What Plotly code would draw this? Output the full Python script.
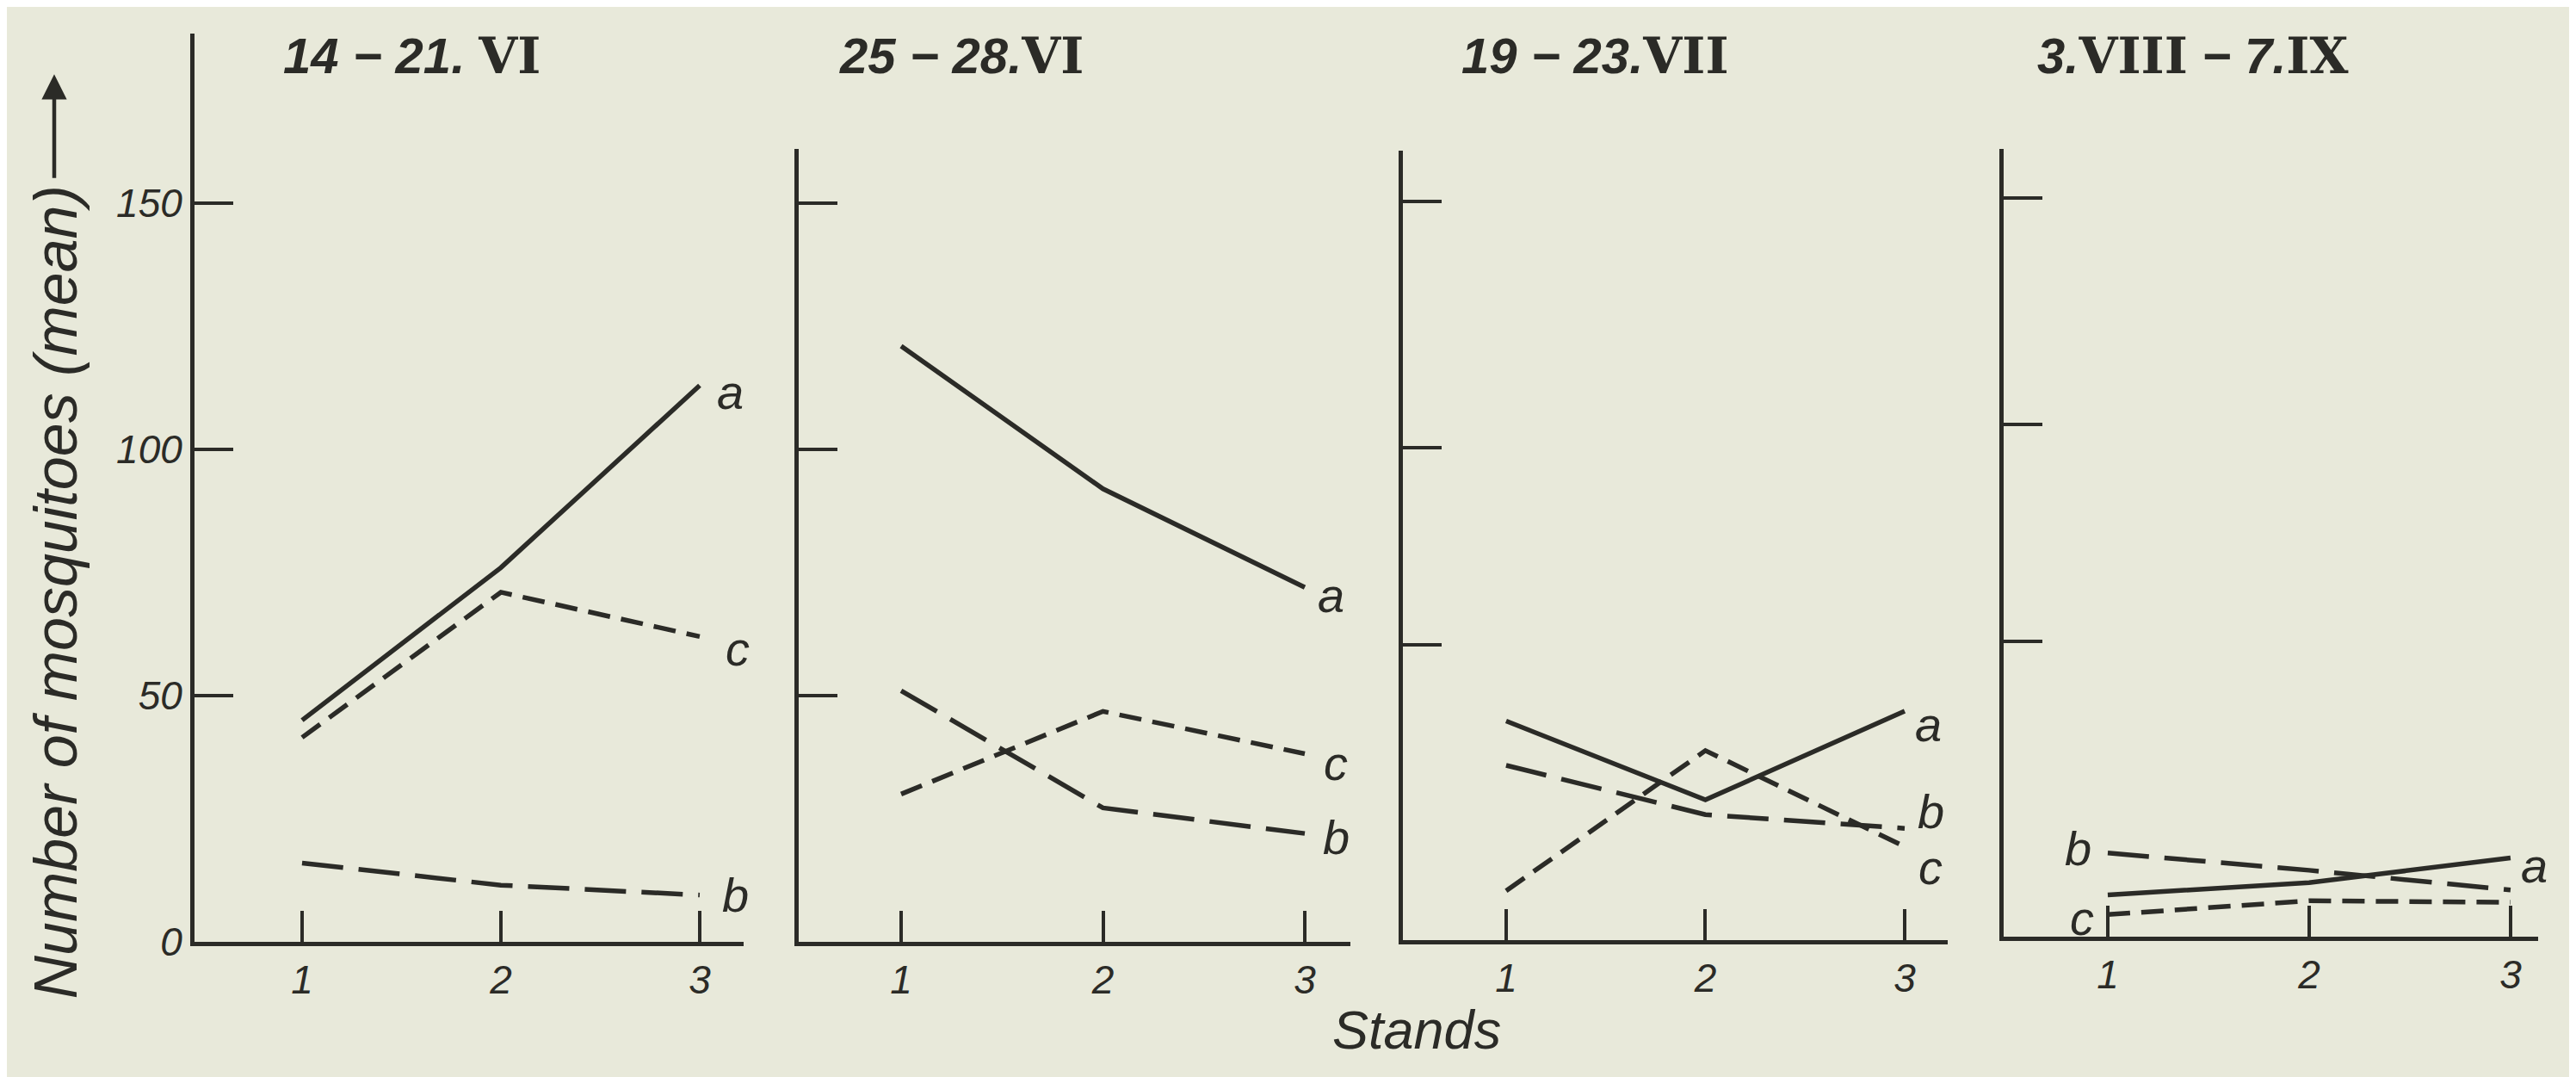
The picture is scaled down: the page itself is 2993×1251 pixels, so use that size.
import plotly.graph_objects as go

# ---------------- data ----------------
stands = [1, 2, 3]
periods = ["14 − 21. VI", "25 − 28.VI", "19 − 23.VII", "3.VIII − 7.IX"]
roman_split = [("14 − 21. ", "VI"), ("25 − 28.", "VI"), ("19 − 23.", "VII"), ("3.", "VIII", " − 7.", "IX")]

a_p1 = [45, 76, 113]
b_p1 = [16, 11.5, 9.5]
c_p1 = [41.5, 71, 62]

a_p2 = [121, 92, 72]
b_p2 = [51, 27.2, 22]
c_p2 = [30, 46.8, 38.2]

a_p3 = [44.5, 28.5, 46.5]
b_p3 = [35.5, 25.5, 22.7]
c_p3 = [10, 38.5, 19]

a_p4 = [8.5, 11, 16]
b_p4 = [17, 13.5, 9.5]
c_p4 = [4.5, 7.3, 7]

series_a = [a_p1, a_p2, a_p3, a_p4]
series_b = [b_p1, b_p2, b_p3, b_p4]
series_c = [c_p1, c_p2, c_p3, c_p4]

y_ticks_p1 = [0, 50, 100, 150]
y_ticks_other = [[50, 100, 150], [60, 100, 150], [60, 104, 150]]

# ---------------- style ----------------
W, H = 2993, 1251
INK = "#2b2b27"
BG = "#e8e9da"
FONT = "Liberation Sans"

x_dom = [[218, 856], [920, 1561], [1622, 2255], [2320, 2941]]
y_dom = [[1109, 32], [1109, 168], [1107, 171], [1103, 168]]   # (bottom px, top px)
x_rng = [[0.459, 3.221], [0.4925, 3.226], [0.482, 3.216], [0.483, 3.137]]
PX_PER_UNIT = 5.84

fig = go.Figure()

dash_b = "48px,18px"
dash_c = "26px,13px"

for i in range(4):
    xa = "x" if i == 0 else f"x{i+1}"
    ya = "y" if i == 0 else f"y{i+1}"
    for vals, dash in ((series_a[i], "solid"), (series_b[i], dash_b), (series_c[i], dash_c)):
        fig.add_trace(go.Scatter(x=stands, y=vals, xaxis=xa, yaxis=ya, mode="lines",
                                 line=dict(color=INK, width=5.5, dash=dash),
                                 showlegend=False, hoverinfo="skip", cliponaxis=False))

layout = dict(width=W, height=H, margin=dict(l=0, r=0, t=0, b=0),
              paper_bgcolor=BG, plot_bgcolor=BG, showlegend=False)

tickfont = dict(family=FONT, size=46, color=INK, style="italic")
for i in range(4):
    sx = "" if i == 0 else str(i + 1)
    bot, top = y_dom[i]
    yr_top = (bot - top) / PX_PER_UNIT
    layout["xaxis" + sx] = dict(
        domain=[x_dom[i][0] / W, x_dom[i][1] / W], range=x_rng[i],
        anchor="y" + sx, tickvals=stands, ticktext=[str(s) for s in stands],
        ticks="inside", ticklen=36, tickwidth=4, tickcolor=INK,
        showline=True, linewidth=5, linecolor=INK, showgrid=False, zeroline=False,
        tickfont=tickfont, fixedrange=True)
    yt = y_ticks_p1 if i == 0 else y_ticks_other[i - 1]
    layout["yaxis" + sx] = dict(
        domain=[(H - bot) / H, (H - top) / H], range=[0, yr_top],
        anchor="x" + sx, tickvals=yt, ticktext=[str(v) for v in yt],
        showticklabels=(i == 0),
        ticks="inside", ticklen=45, tickwidth=4, tickcolor=INK,
        showline=True, linewidth=5, linecolor=INK, showgrid=False, zeroline=False,
        tickfont=tickfont, fixedrange=True)

fig.update_layout(**layout)

# ---------------- titles ----------------
title_cx = [471, 1109, 1845, 2539]
title_cy = 58
def title_html(parts):
    out = ""
    for k, p in enumerate(parts):
        if k % 2 == 1:
            out += "<span style=\"font-family:'DejaVu Serif';font-style:normal\">" + p + "</span>"
        else:
            out += p
    return out

for i in range(4):
    fig.add_annotation(xref="paper", yref="paper", x=title_cx[i] / W, y=(H - title_cy) / H,
                       text="<b>" + title_html(roman_split[i]) + "</b>", showarrow=False,
                       xanchor="center", yanchor="middle",
                       font=dict(family=FONT, size=58, color=INK, style="italic"))

# ---------------- series labels ----------------
# (series, panel, stand index, xshift, yshift)
lab_font = dict(family=FONT, size=56, color=INK, style="italic")
label_spec = [
    ("a", 0, 2, 36, -8), ("c", 0, 2, 44, -14), ("b", 0, 2, 42, 0),
    ("a", 1, 2, 30, -9), ("c", 1, 2, 36, -11), ("b", 1, 2, 36, -4),
    ("a", 2, 2, 28, -15), ("b", 2, 2, 31, 20), ("c", 2, 2, 30, -24),
    ("b", 3, 0, -34, 5), ("c", 3, 0, -30, -4), ("a", 3, 2, 28, -9),
]
data_map = {"a": series_a, "b": series_b, "c": series_c}
for name, p, k, xs, ys in label_spec:
    sx = "" if p == 0 else str(p + 1)
    fig.add_annotation(xref="x" + sx, yref="y" + sx, x=stands[k], y=data_map[name][p][k],
                       text=name, showarrow=False, xshift=xs, yshift=ys,
                       xanchor="center", yanchor="middle", font=lab_font)

# ---------------- axis titles ----------------
fig.add_annotation(xref="paper", yref="paper", x=57 / W, y=(H - 695) / H,
                   text="Number of mosquitoes (mean)", textangle=-90, showarrow=False,
                   xanchor="center", yanchor="middle",
                   font=dict(family=FONT, size=70, color=INK, style="italic"))
fig.add_annotation(xref="paper", yref="paper", x=55 / W, y=(H - 80) / H,
                   ax=0, ay=122, axref="pixel", ayref="pixel", text="",
                   showarrow=True, arrowhead=2, arrowsize=1.3, arrowwidth=4.5, arrowcolor=INK)
fig.add_annotation(xref="paper", yref="paper", x=1638 / W, y=(H - 1213) / H,
                   text="Stands", showarrow=False, xanchor="center", yanchor="middle",
                   font=dict(family=FONT, size=63, color=INK, style="italic"))

fig.write_html("out.html")
